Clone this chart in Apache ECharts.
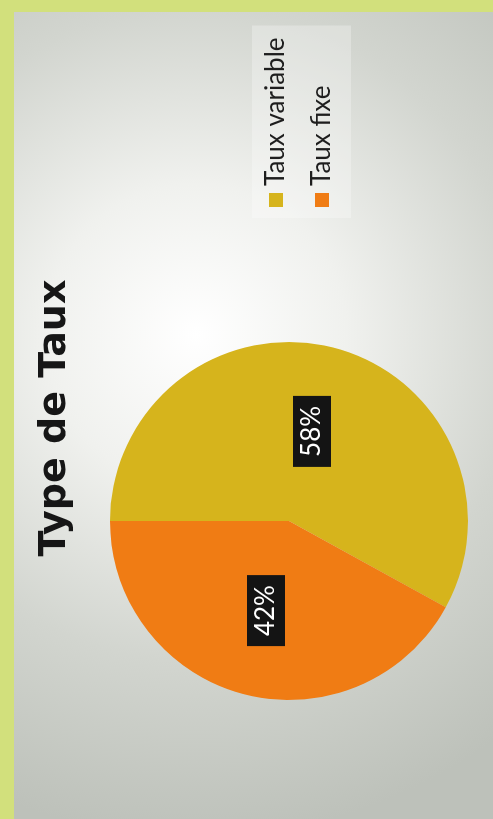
<!DOCTYPE html>
<html>
<head>
<meta charset="utf-8">
<script src="https://cdn.jsdelivr.net/npm/echarts@6/dist/echarts.min.js"></script>
<style>
  html, body { margin: 0; padding: 0; }
  body { width: 493px; height: 819px; background: #d2e07c; position: relative; overflow: hidden; }
  /* the slide is laid out landscape and turned a quarter turn */
  #chart {
    position: absolute; left: 14px; top: 819px;
    width: 807px; height: 479px;
    transform-origin: 0 0; transform: rotate(-90deg);
  }
</style>
</head>
<body>
<div id="chart"></div>
<script>
const titleText = 'Type de Taux';
const categories = ['Taux variable', 'Taux fixe'];
const shares = [58, 42];
const colors = ['#d6b41c', '#f07c14'];

const chart = echarts.init(document.getElementById('chart'), null, { renderer: 'canvas' });

chart.setOption({
  backgroundColor: {
    type: 'radial', x: 0.60, y: 0.38, r: 1.05,
    colorStops: [
      { offset: 0, color: '#ffffff' },
      { offset: 0.3, color: '#f0f1ee' },
      { offset: 0.65, color: '#d2d5cf' },
      { offset: 1, color: '#bdc1ba' }
    ]
  },
  color: colors,
  title: {
    text: titleText,
    left: 396, top: 17, textAlign: 'center',
    textStyle: { fontFamily: 'DejaVu Sans', fontWeight: 'bold', fontSize: 38, color: '#161616' }
  },
  legend: {
    orient: 'vertical',
    left: 601, top: 238,
    padding: [11, 12, 16, 11],
    backgroundColor: 'rgba(255,255,255,0.28)',
    itemWidth: 14, itemHeight: 14, itemGap: 20,
    icon: 'rect',
    data: categories,
    textStyle: { fontFamily: 'Lato', fontSize: 26, lineHeight: 22, color: '#1e1e1e', padding: [0, 0, 0, 2] }
  },
  series: [{
    type: 'pie',
    center: [298, 275],
    radius: 179,
    startAngle: 90,
    clockwise: true,
    silent: true,
    animation: false,
    data: categories.map((name, i) => ({ name, value: shares[i] })),
    label: {
      position: 'inside',
      formatter: p => p.value + '%',
      fontFamily: 'Lato',
      fontSize: 26,
      color: '#ffffff',
      backgroundColor: '#141414',
      padding: [6, 10]
    },
    labelLine: { show: false }
  }]
});
</script>
</body>
</html>
